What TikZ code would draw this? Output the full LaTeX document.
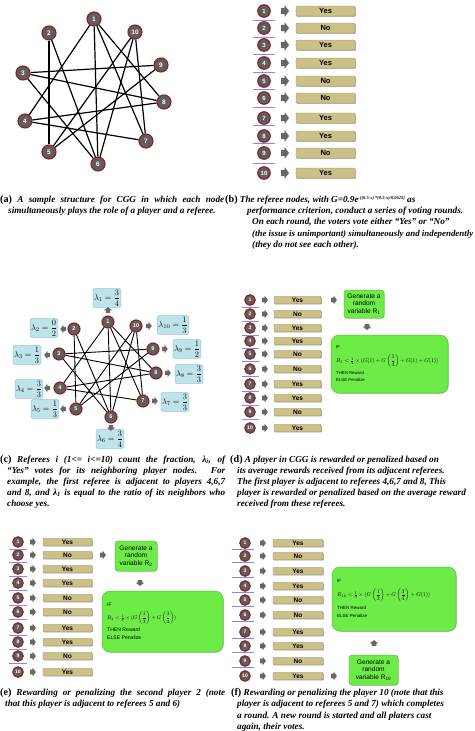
\documentclass[tikz,border=0pt]{standalone}
\usepackage{amsmath}
\usepackage{graphicx}
\usepackage{fontspec}
\setmainfont{Liberation Serif}
\newfontfamily\sff{Liberation Sans}
\usetikzlibrary{shadows}
\definecolor{nodefill}{HTML}{5E5E5E}
\definecolor{noderim}{HTML}{8C1F1F}
\definecolor{khaki}{HTML}{CBC088}
\definecolor{khakid}{HTML}{9E9566}
\definecolor{lgreen}{HTML}{6DEB47}
\definecolor{dgreen}{HTML}{55C535}
\definecolor{lblue}{HTML}{BEE3EB}
\definecolor{dblue}{HTML}{93C6D2}
\definecolor{sepblue}{HTML}{8888E8}
\definecolor{agray}{HTML}{666666}
\newcommand\lab[1]{{\upshape\fontsize{10.2}{11}\selectfont(#1)}}
\newcommand\barrow[4]{\fill[agray,shift={(#1,#2)},rotate=#3,scale=#4] (-4,-3.2) -- (-0.5,-3.2) -- (-0.5,-6) -- (4,0) -- (-0.5,6) -- (-0.5,3.2) -- (-4,3.2) -- cycle;}
\begin{document}
\begin{tikzpicture}[x=1pt,y=-1pt,
  pnode/.style={circle,fill=nodefill,draw=noderim,line width=1.1pt,inner sep=0pt,text=white},
  pa/.style={pnode,minimum size=14pt,font=\sff\bfseries\fontsize{6.5}{7}\selectfont},
  pb/.style={pnode,minimum size=12.5pt,font=\sff\bfseries\fontsize{6}{7}\selectfont},
  pc/.style={pnode,minimum size=12pt,font=\sff\bfseries\fontsize{5.5}{6}\selectfont},
  pd/.style={pnode,minimum size=10.5pt,font=\sff\bfseries\fontsize{5}{6}\selectfont},
  edgea/.style={black,line width=1.2pt},
  edgec/.style={black,line width=0.9pt},
  vote/.style={rectangle,fill=khaki,draw=khakid,line width=0.4pt,rounded corners=0.8pt,inner sep=0pt,
    drop shadow={shadow xshift=0.6pt,shadow yshift=-0.7pt,fill=black!45,opacity=1}},
  voteb/.style={vote,minimum width=59pt,minimum height=10pt,font=\sff\bfseries\fontsize{7.5}{8}\selectfont},
  voted/.style={vote,minimum width=47pt,minimum height=7.5pt,font=\sff\bfseries\fontsize{6.5}{7}\selectfont},
  sepl/.style={sepblue,line width=0.8pt},
  lbox/.style={rectangle,fill=lblue,draw=dblue,line width=0.5pt,rounded corners=1.5pt,inner sep=1pt,
    minimum width=27pt,minimum height=15pt},
  genbox/.style={rectangle,fill=lgreen,draw=dgreen,line width=0.5pt,rounded corners=3pt,inner sep=0pt,
    align=center,font=\sff\fontsize{6.6}{7.5}\selectfont,
    drop shadow={shadow xshift=0.6pt,shadow yshift=-0.6pt,fill=black!25,opacity=1}},
  bigbox/.style={rectangle,fill=lgreen,draw=dgreen,line width=0.5pt,rounded corners=8pt,inner sep=0pt,
    drop shadow={shadow xshift=0.8pt,shadow yshift=-0.8pt,fill=black!25,opacity=1}},
  bt/.style={anchor=west,inner sep=0pt},
  captxt/.style={anchor=west,inner sep=0pt,font=\bfseries\itshape\fontsize{9.2}{11}\selectfont}]
\useasboundingbox[fill=white] (0,0) rectangle (474,731);

% ---------------- (a)
\foreach \nn/\px/\py in {1/94/19,2/49/33,10/135/32,9/161/65,3/23/73,8/164/102,4/25/121,7/146/141,5/49/152,6/98/164}
  \node[pa] (a\nn) at (\px,\py) {\nn};
\foreach \s/\t in {1/4,1/6,1/7,1/8,2/5,2/6,10/5,10/6,10/7,9/3,9/5,3/8,3/6,8/4,4/7}
  \draw[edgea] (a\s) -- (a\t);

% ---------------- (b)
\foreach \nn/\py/\vt in {1/11/Yes,2/28/No,3/45/Yes,4/63/Yes,5/81/No,6/98/No,7/118/Yes,8/136/Yes,9/153/No,10/173/Yes}{
  \node[pb] (b\nn) at (264,\py) {\nn};
  \barrow{285}{\py}{0}{1}
  \node[voteb] (bv\nn) at (325.5,\py) {\vt};
}
\foreach \py in {20,37,54,72,89,107,125,143,163}
  \draw[sepl] (253,\py) -- (275,\py);

% captions a, b
\node[captxt] (ca1) at (0,200) {\makebox[224pt][s]{\lab{a} A sample structure for CGG in which each node}};
\node[captxt] (ca2) at (8,211) {simultaneously plays the role of a player and a referee.};
\node[captxt] (cb1) at (225,200) {\lab{b} The referee nodes, with G=0.9e\raisebox{3.4pt}{\fontsize{4.5}{5}\selectfont-[(0.5-x) *(0.5-x)/0.0625]} as};
\node[captxt] (cb2) at (247,211) {performance criterion, conduct a series of voting rounds.};
\node[captxt] (cb3) at (252,222) {On each round, the voters vote either “Yes” or “No”};
\node[captxt] (cb4) at (252,234) {\resizebox{221pt}{!}{(the issue is unimportant) simultaneously and independently}};
\node[captxt] (cb5) at (252,245) {(they do not see each other).};

% ---------------- (c)
\foreach \nn/\px/\py in {1/108/322,2/74/329,10/136/326,9/153/349,3/59/354,8/156/373,4/60/388,7/143/401,5/76/409,6/111/417}
  \node[pc] (c\nn) at (\px,\py) {\nn};
\foreach \s/\t in {1/4,1/6,1/7,1/8,2/5,2/6,10/5,10/6,10/7,9/3,9/5,3/8,3/6,8/4,4/7}
  \draw[edgec] (c\s) -- (c\t);
\foreach \nn/\bx/\by/\ax/\ay/\rot/\num/\den in {1/107/298/108/310/90/3/4, 2/44/328/63/329/180/0/2, 10/173/325/149/326/0/1/3,
   3/27/355/47/355/180/1/3, 9/187/349/165/349/0/1/2, 8/189/374/168/373/0/3/3, 4/29/389/47/388/180/3/3,
   7/175/402/155/401/0/3/3, 5/45/409/63/409/180/1/3, 6/110/439/111/428/-90/3/4}{
  \node[lbox] (l\nn) at (\bx,\by) {\resizebox{!}{11pt}{$\lambda_{\nn}=\dfrac{\num}{\den}$}};
  \barrow{\ax}{\ay}{\rot}{0.7}
}

% captions c, d
\node[captxt] (cc1) at (0,460) {\makebox[225pt][s]{\lab{c} Referees i (1<= i<=10) count the fraction, λ\textsubscript{i}, of}};
\node[captxt] (cc2) at (7,471) {\makebox[218pt][s]{“Yes” votes for its neighboring player nodes. For}};
\node[captxt] (cc3) at (7,482) {\makebox[218pt][s]{example, the first referee is adjacent to players 4,6,7}};
\node[captxt] (cc4) at (7,493) {\makebox[218pt][s]{and 8, and λ\textsubscript{1} is equal to the ratio of its neighbors who}};
\node[captxt] (cc5) at (7,504) {choose yes.};
\node[captxt] (cd1) at (230,460) {\lab{d} A player in CGG is rewarded or penalized based on};
\node[captxt] (cd2) at (237,471) {its average rewards received from its adjacent referees.};
\node[captxt] (cd3) at (237,482) {The first player is adjacent to referees 4,6,7 and 8, This};
\node[captxt] (cd4) at (237,493) {player is rewarded or penalized based on the average reward};
\node[captxt] (cd5) at (237,504) {received from these referees.};

% ---------------- (d)
\foreach \nn/\py/\vt in {1/300/Yes,2/314/No,3/328/Yes,4/341/Yes,5/354/No,6/369/No,7/384/Yes,8/398/Yes,9/412/No,10/428/Yes}{
  \node[pd] (d\nn) at (250,\py) {\nn};
  \barrow{265}{\py}{0}{0.72}
  \node[voted] (dv\nn) at (297.5,\py) {\vt};
}
\foreach \py in {307,321,335,348,361,376,391,405,419}
  \draw[sepl] (242,\py) -- (259,\py);
\barrow{334}{300}{0}{0.72}
\node[genbox,minimum width=40pt,minimum height=28pt] (gd) at (364,304) {Generate a\\random\\variable R\textsubscript{1}};
\barrow{367}{327}{-90}{0.72}
\node[bigbox,minimum width=117pt,minimum height=58pt] (bd) at (389.5,364) {};
\node[bt,font=\sff\fontsize{4.3}{5}\selectfont] (bd1) at (336,347.5) {IF};
\node[bt] (bd2) at (336,361) {\resizebox{102pt}{!}{$R_1<\frac{1}{4}\times(G(1)+G\left(\dfrac{3}{4}\right)+G(1)+G(1))$}};
\node[bt,font=\sff\fontsize{4.3}{5}\selectfont] (bd3) at (336,373) {THEN Reward};
\node[bt,font=\sff\fontsize{4.3}{5}\selectfont] (bd4) at (336,380) {ELSE Penalize};

% ---------------- (e)
\foreach \nn/\py/\vt in {1/542/Yes,2/555/No,3/569/Yes,4/583/Yes,5/598/No,6/612/No,7/628/Yes,8/642/Yes,9/656/No,10/672/Yes}{
  \node[pd] (e\nn) at (18,\py) {\nn};
  \barrow{33}{\py}{0}{0.72}
  \node[voted,minimum width=49pt] (ev\nn) at (67.5,\py) {\vt};
}
\foreach \py in {549,562,576,590,605,619,635,649,663}
  \draw[sepl] (9,\py) -- (27,\py);
\barrow{103}{555}{0}{0.72}
\node[genbox,minimum width=42pt,minimum height=30pt] (ge) at (136,556) {Generate a\\random\\variable R\textsubscript{2}};
\barrow{140}{583}{-90}{0.72}
\node[bigbox,minimum width=121pt,minimum height=61pt] (be) at (162.5,621.5) {};
\node[bt,font=\sff\fontsize{5}{6}\selectfont] (be1) at (107,605) {IF};
\node[bt] (be2) at (107,618) {\resizebox{69pt}{!}{$R_2<\frac{1}{2}\times(G\left(\dfrac{1}{3}\right)+G\left(\dfrac{3}{4}\right))$}};
\node[bt,font=\sff\fontsize{5.1}{6}\selectfont] (be3) at (107,630) {THEN Reward};
\node[bt,font=\sff\fontsize{5.1}{6}\selectfont] (be4) at (107,637.5) {ELSE Penalize};

% ---------------- (f)
\foreach \nn/\py/\vt in {1/543/Yes,2/556/No,3/571/Yes,4/586/Yes,5/600/No,6/615/No,7/632/Yes,8/646/Yes,9/661/No,10/676/Yes}{
  \node[pd] (f\nn) at (245,\py) {\nn};
  \barrow{263}{\py}{0}{0.72}
  \node[voted,minimum width=50pt] (fv\nn) at (298,\py) {\vt};
}
\foreach \py in {549,562,577,592,606,621,638,652,667}
  \draw[sepl] (232,\py) -- (254,\py);
\node[bigbox,minimum width=124pt,minimum height=64pt] (bf) at (394,599) {};
\node[bt,font=\sff\fontsize{4.5}{5}\selectfont] (bf1) at (337,581) {IF};
\node[bt] (bf2) at (337,595.5) {\resizebox{93pt}{!}{$R_{10}<\frac{1}{3}\times(G\left(\dfrac{1}{3}\right)+G\left(\dfrac{3}{4}\right)+G(1))$}};
\node[bt,font=\sff\fontsize{4.5}{5}\selectfont] (bf3) at (337,608) {THEN Reward};
\node[bt,font=\sff\fontsize{4.5}{5}\selectfont] (bf4) at (337,615.5) {ELSE Penalize};
\barrow{374}{643}{90}{0.72}
\node[genbox,minimum width=49pt,minimum height=30pt] (gf) at (373.5,670) {Generate a\\random\\variable R\textsubscript{10}};
\barrow{334}{676}{0}{0.72}

% captions e, f
\node[captxt] (ce1) at (0,693) {\makebox[225pt][s]{\lab{e} Rewarding or penalizing the second player 2 (note}};
\node[captxt] (ce2) at (5,704) {that this player is adjacent to referees 5 and 6)};
\node[captxt] (cf1) at (231,693) {\lab{f} Rewarding or penalizing the player 10 (note that this};
\node[captxt] (cf2) at (237,704) {player is adjacent to referees 5 and 7) which completes};
\node[captxt] (cf3) at (237,716) {a round. A new round is started and all platers cast};
\node[captxt] (cf4) at (237,727) {again, their votes.};
\end{tikzpicture}
\end{document}
